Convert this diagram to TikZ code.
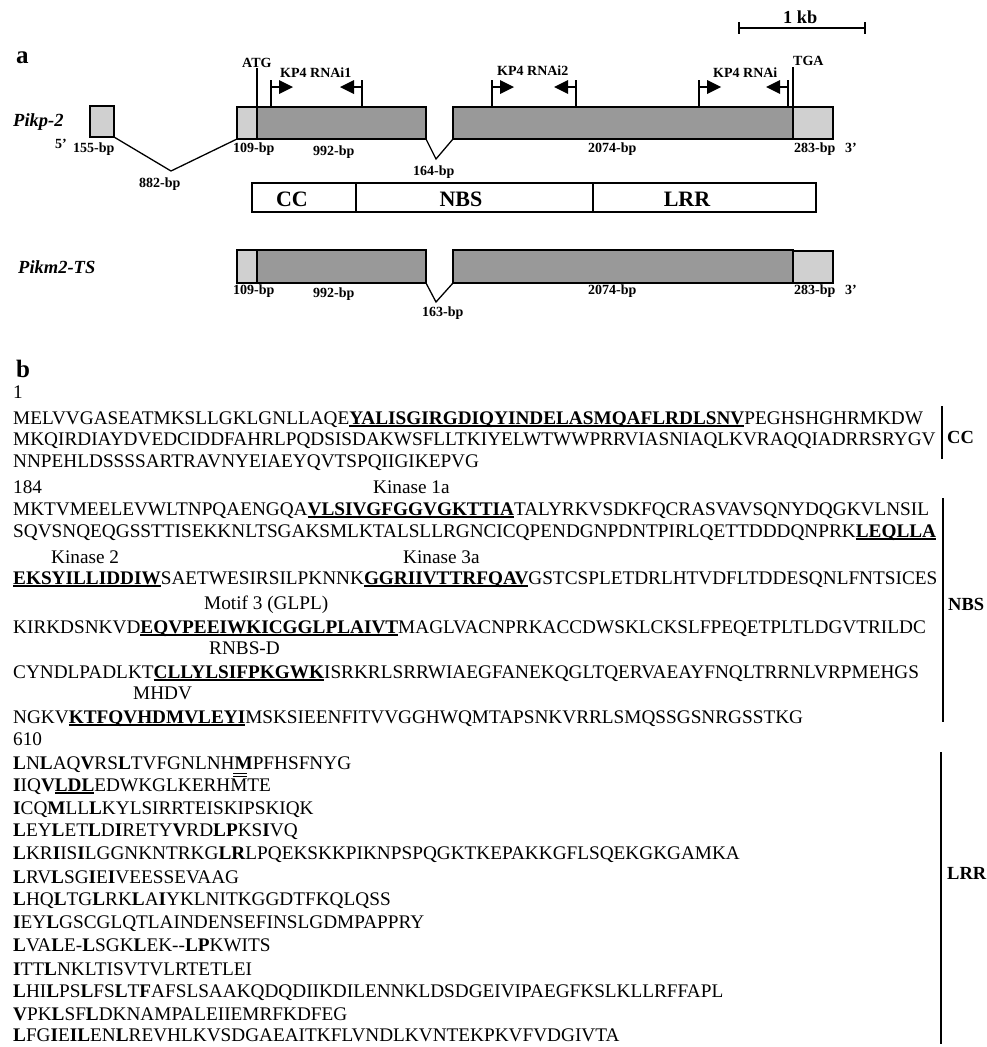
\documentclass[tikz,border=0pt]{standalone}
\usepackage{fontspec}
\setmainfont{Liberation Serif}
\definecolor{exdark}{RGB}{153,153,153}
\definecolor{exlight}{RGB}{208,208,208}
\newsavebox\ulbox
\newcommand\ulb[1]{\sbox\ulbox{\bfseries #1}\rlap{\rule[-2.5pt]{\wd\ulbox}{1.2pt}}\usebox\ulbox}
\newcommand\bb[1]{\textbf{#1}}
\tikzset{
  seq/.style={anchor=base west, inner sep=0pt, font=\fontsize{19.25}{21}\selectfont},
  lbl/.style={anchor=base west, inner sep=0pt, font=\fontsize{14}{16}\selectfont\bfseries},
  gene/.style={anchor=base west, inner sep=0pt, font=\fontsize{18.5}{20}\selectfont\bfseries\itshape},
  panel/.style={anchor=base west, inner sep=0pt, font=\fontsize{25}{27}\selectfont\bfseries},
  dom/.style={anchor=base, inner sep=0pt, font=\fontsize{22}{24}\selectfont\bfseries},
  side/.style={anchor=base west, inner sep=0pt, font=\fontsize{18.5}{20}\selectfont\bfseries},
  exd/.style={draw=black, line width=1.3pt, fill=exdark},
  exl/.style={draw=black, line width=1.3pt, fill=exlight},
  ln/.style={line width=1.3pt},
}
\begin{document}
\begin{tikzpicture}[x=1pt,y=-1pt]
\useasboundingbox (0,0) rectangle (986,1047);
% ---------- panel a ----------
\node[panel] (pa) at (16,63) {a};
\node[anchor=base west, inner sep=0pt, font=\fontsize{18.3}{20}\selectfont\bfseries] (kb) at (783,23) {1 kb};
\draw[ln] (739,28) -- (865,28);
\draw[ln] (739,22) -- (739,34);
\draw[ln] (865,22) -- (865,34);
% gene 1
\node[gene] (g1) at (13,126) {Pikp-2};
\draw[exl] (90,106) rectangle (114,137);
\draw[exl] (237,107) rectangle (257,139);
\draw[exd] (257,107) rectangle (426,139);
\draw[exd] (453,107) rectangle (793,139);
\draw[exl] (793,107) rectangle (833,139);
\draw[ln] (114,137) -- (171,171) -- (237,139);
\draw[ln] (426,139) -- (436,159) -- (453,139);
\node[lbl] (atg) at (242,67) {ATG};
\draw[ln] (257,68) -- (257,107);
\node[lbl] (tga) at (793,65) {TGA};
\draw[ln] (793,67) -- (793,107);
% primers
\foreach \x in {271,492,699} {
  \draw[ln] (\x,80) -- (\x,107);
  \draw[ln] (\x,87) -- (\x+9,87);
  \fill (\x+8,80) -- (\x+22,87) -- (\x+8,94) -- cycle;
}
\foreach \x in {362,576,788} {
  \draw[ln] (\x,80) -- (\x,107);
  \draw[ln] (\x,87) -- (\x-9,87);
  \fill (\x-8,80) -- (\x-22,87) -- (\x-8,94) -- cycle;
}
\node[lbl] (p1) at (280,77) {KP4 RNAi1};
\node[lbl] (p2) at (497,75) {KP4 RNAi2};
\node[lbl] (p3) at (713,77) {KP4 RNAi};
\node[lbl] (f5) at (55,148) {5’};
\node[lbl] (b155) at (73,152) {155-bp};
\node[lbl] (b109) at (233,152) {109-bp};
\node[lbl] (b992) at (313,155) {992-bp};
\node[lbl] (b882) at (139,187) {882-bp};
\node[lbl] (b164) at (413,175) {164-bp};
\node[lbl] (b2074) at (588,152) {2074-bp};
\node[lbl] (b283) at (794,152) {283-bp};
\node[lbl] (f3) at (845,152) {3’};
% domains
\draw[ln] (252,183) rectangle (816,212);
\draw[ln] (356,183) -- (356,212);
\draw[ln] (593,183) -- (593,212);
\node[dom] (dcc) at (292,206) {CC};
\node[dom] (dnbs) at (461,206) {NBS};
\node[dom] (dlrr) at (687,206) {LRR};
% gene 2
\node[gene] (g2) at (18,273) {Pikm2-TS};
\draw[exl] (237,250) rectangle (257,283);
\draw[exd] (257,250) rectangle (426,283);
\draw[exd] (453,250) rectangle (793,283);
\draw[exl] (793,251) rectangle (833,283);
\draw[ln] (426,283) -- (436,302) -- (453,283);
\node[lbl] (c109) at (233,294) {109-bp};
\node[lbl] (c992) at (313,297) {992-bp};
\node[lbl] (c163) at (422,316) {163-bp};
\node[lbl] (c2074) at (588,294) {2074-bp};
\node[lbl] (c283) at (794,294) {283-bp};
\node[lbl] (c3) at (845,294) {3’};
% ---------- panel b ----------
\node[panel] (pb) at (16,377) {b};
\node[seq] (n1) at (13,398) {1};
\node[seq] (r1) at (13,424) {MELVVGASEATMKSLLGKLGNLLAQE\ulb{YALISGIRGDIQYINDELASMQAFLRDLSNV}PEGHSHGHRMKDW};
\node[seq] (r2) at (13,445) {MKQIRDIAYDVEDCIDDFAHRLPQDSISDAKWSFLLTKIYELWTWWPRRVIASNIAQLKVRAQQIADRRSRYGV};
\node[seq] (r3) at (13,467) {NNPEHLDSSSSARTRAVNYEIAEYQVTSPQIIGIKEPVG};
\node[seq] (n184) at (13,493) {184};
\node[seq] (k1a) at (373,493) {Kinase 1a};
\node[seq] (r4) at (13,515) {MKTVMEELEVWLTNPQAENGQA\ulb{VLSIVGFGGVGKTTIA}TALYRKVSDKFQCRASVAVSQNYDQGKVLNSIL};
\node[seq] (r5) at (13,537) {SQVSNQEQGSSTTISEKKNLTSGAKSMLKTALSLLRGNCICQPENDGNPDNTPIRLQETTDDDQNPRK\ulb{LEQLLA}};
\node[seq] (k2) at (51,563) {Kinase 2};
\node[seq] (k3a) at (403,563) {Kinase 3a};
\node[seq] (r6) at (13,584) {\ulb{EKSYILLIDDIW}SAETWESIRSILPKNNK\ulb{GGRIIVTTRFQAV}GSTCSPLETDRLHTVDFLTDDESQNLFNTSICES};
\node[seq] (m3) at (204,609) {Motif 3 (GLPL)};
\node[seq] (r7) at (13,633) {KIRKDSNKVD\ulb{EQVPEEIWKICGGLPLAIVT}MAGLVACNPRKACCDWSKLCKSLFPEQETPLTLDGVTRILDC};
\node[seq] (rnbs) at (209,654) {RNBS-D};
\node[seq] (r8) at (13,678) {CYNDLPADLKT\ulb{CLLYLSIFPKGWK}ISRKRLSRRWIAEGFANEKQGLTQERVAEAYFNQLTRRNLVRPMEHGS};
\node[seq] (mhdv) at (133,699) {MHDV};
\node[seq] (r9) at (13,723) {NGKV\ulb{KTFQVHDMVLEYI}MSKSIEENFITVVGGHWQMTAPSNKVRRLSMQSSGSNRGSSTKG};
\node[seq] (n610) at (13,745) {610};
\node[seq] (l1) at (13,769) {\bb{L}N\bb{L}AQ\bb{V}RS\bb{L}TVFGNLNH\bb{M}PFHSFNYG};
\node[seq] (l2) at (13,791) {\bb{I}IQ\bb{V}\ulb{LDL}EDWKGLKERHMTE};
\node[seq] (l3) at (13,814) {\bb{I}CQ\bb{M}LL\bb{L}KYLSIRRTEISKIPSKIQK};
\node[seq] (l4) at (13,836) {\bb{L}EY\bb{L}ET\bb{L}D\bb{I}RETY\bb{V}RD\bb{LP}KS\bb{I}VQ};
\node[seq] (l5) at (13,859) {\bb{L}KR\bb{I}IS\bb{I}LGGNKNTRKG\bb{LR}LPQEKSKKPIKNPSPQGKTKEPAKKGFLSQEKGKGAMKA};
\node[seq] (l6) at (13,883) {\bb{L}RV\bb{L}SG\bb{I}E\bb{I}VEESSEVAAG};
\node[seq] (l7) at (13,905) {\bb{L}HQ\bb{L}TG\bb{L}RK\bb{L}A\bb{I}YKLNITKGGDTFKQLQSS};
\node[seq] (l8) at (13,928) {\bb{I}EY\bb{L}GSCGLQTLAINDENSEFINSLGDMPAPPRY};
\node[seq] (l9) at (13,951) {\bb{L}VA\bb{L}E-\bb{L}SGK\bb{L}EK-{}-\bb{LP}KWITS};
\node[seq] (l10) at (13,975) {\bb{I}TT\bb{L}NKLTISVTVLRTETLEI};
\node[seq] (l11) at (13,997) {\bb{L}HI\bb{L}PS\bb{L}FS\bb{L}T\bb{F}AFSLSAAKQDQDIIKDILENNKLDSDGEIVIPAEGFKSLKLLRFFAPL};
\node[seq] (l12) at (13,1020) {\bb{V}PK\bb{L}SF\bb{L}DKNAMPALEIIEMRFKDFEG};
\node[seq] (l13) at (13,1041) {\bb{L}FG\bb{I}E\bb{IL}EN\bb{L}REVHLKVSDGAEAITKFLVNDLKVNTEKPKVFVDGIVTA};
\draw[line width=1pt] (233,773) -- (247,773);
\draw[line width=1pt] (233,776.5) -- (247,776.5);
% side brackets
\draw[ln] (942,406) -- (942,459);
\node[side] (scc) at (947,443) {CC};
\draw[ln] (943,498) -- (943,722);
\node[side] (snbs) at (948,610) {NBS};
\draw[ln] (941,752) -- (941,1044);
\node[side] (slrr) at (947,879) {LRR};
\end{tikzpicture}
\end{document}
